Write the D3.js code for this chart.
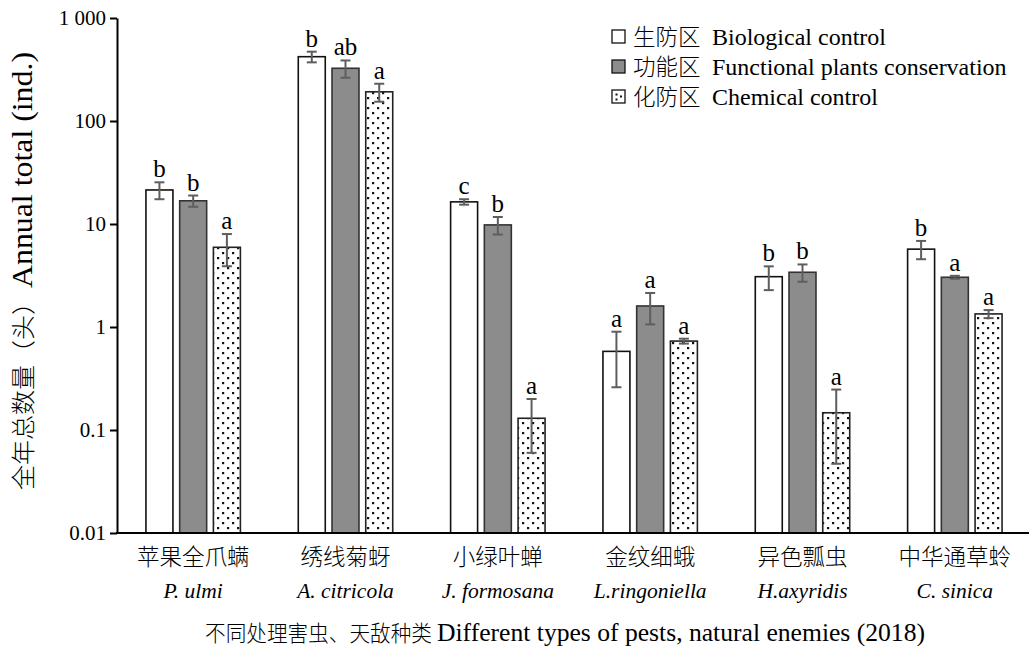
<!DOCTYPE html>
<html>
<head>
<meta charset="utf-8">
<script src="https://cdn.jsdelivr.net/npm/d3@7"></script>
<style>
  html, body { margin: 0; padding: 0; background: #fff; }
  svg { display: block; }
</style>
</head>
<body>
<svg id="chart" width="1029" height="646"></svg>
<script>
// Species (Chinese name + Latin name)
const categoriesCn = ["苹果全爪螨", "绣线菊蚜", "小绿叶蝉", "金纹细蛾", "异色瓢虫", "中华通草蛉"];
const categoriesLatin = ["P. ulmi", "A. citricola", "J. formosana", "L.ringoniella", "H.axyridis", "C. sinica"];

// Treatments
const seriesCn = ["生防区", "功能区", "化防区"];
const seriesEn = ["Biological control", "Functional plants conservation", "Chemical control"];

// Annual totals (mean) per species, one array per treatment
const biological = [21.4, 421, 16.4, 0.58, 3.08, 5.7];
const functional = [16.8, 325, 9.8, 1.6, 3.4, 3.04];
const chemical   = [5.94, 192, 0.13, 0.73, 0.147, 1.34];

// Standard errors
const biologicalSE = [4.0, 50, 1.0, 0.32, 0.8, 1.15];
const functionalSE = [2.1, 62, 1.9, 0.54, 0.65, 0.1];
const chemicalSE   = [2.05, 38, 0.07, 0.04, 0.1, 0.12];

// Significance letters
const biologicalSig = ["b", "b", "c", "a", "b", "b"];
const functionalSig = ["b", "ab", "b", "a", "b", "a"];
const chemicalSig   = ["a", "a", "a", "a", "a", "a"];

// Axis ticks
const yTicks = [0.01, 0.1, 1, 10, 100, 1000];
const yTickLabels = ["0.01", "0.1", "1", "10", "100", "1 000"];

const values = [biological, functional, chemical];
const errors = [biologicalSE, functionalSE, chemicalSE];
const letters = [biologicalSig, functionalSig, chemicalSig];

const SERIF = "'Liberation Serif', 'DejaVu Serif', serif";
const CJK = "'Noto Sans CJK SC', sans-serif";

const svg = d3.select("#chart");
const plotLeft = 117, plotRight = 1031, plotTop = 18, plotBottom = 533;

const x = d3.scaleBand().domain(d3.range(categoriesCn.length))
  .range([plotLeft, plotRight]).paddingInner(0.38).paddingOuter(0.19);
const xs = d3.scaleBand().domain(d3.range(3))
  .range([0, x.bandwidth()]).paddingInner(0.2).paddingOuter(0);
const y = d3.scaleLog().domain([0.01, 1000]).range([plotBottom, plotTop]);

// Dot fill for the chemical-control bars
const defs = svg.append("defs");
const pat = defs.append("pattern").attr("id", "dots")
  .attr("patternUnits", "userSpaceOnUse").attr("width", 10).attr("height", 10);
pat.append("rect").attr("width", 10).attr("height", 10).attr("fill", "#fff");
pat.append("rect").attr("x", 2).attr("y", 2).attr("width", 2.2).attr("height", 2.2).attr("fill", "#111");
pat.append("rect").attr("x", 7).attr("y", 7).attr("width", 2.2).attr("height", 2.2).attr("fill", "#111");

const fills = ["#ffffff", "#8c8c8c", "url(#dots)"];
const strokes = ["#111", "#333", "#222"];

// Bars, error bars and letters
for (let s = 0; s < 3; s++) {
  const g = svg.append("g");
  categoriesCn.forEach((c, i) => {
    const v = values[s][i], e = errors[s][i];
    const bx = x(i) + xs(s), bw = xs.bandwidth();
    const cx = bx + bw / 2;
    g.append("rect")
      .attr("x", bx).attr("y", y(v))
      .attr("width", bw).attr("height", plotBottom - y(v))
      .attr("fill", fills[s]).attr("stroke", strokes[s]).attr("stroke-width", 1.6);
    const yHi = y(v + e), yLo = y(Math.max(v - e, 0.0105));
    const eb = g.append("g").attr("stroke", "#5e5e5e").attr("stroke-width", 2);
    eb.append("line").attr("x1", cx).attr("x2", cx).attr("y1", yHi).attr("y2", yLo);
    eb.append("line").attr("x1", cx - 5).attr("x2", cx + 5).attr("y1", yHi).attr("y2", yHi);
    eb.append("line").attr("x1", cx - 5).attr("x2", cx + 5).attr("y1", yLo).attr("y2", yLo);
    g.append("text").attr("font-family", SERIF)
      .attr("x", cx).attr("y", yHi - 5)
      .attr("text-anchor", "middle").attr("font-size", 25).attr("fill", "#000")
      .text(letters[s][i]);
  });
}

// Y axis
const yAxis = d3.axisLeft(y).tickValues(yTicks)
  .tickFormat((d, i) => yTickLabels[i]).tickSize(7).tickSizeOuter(0).tickPadding(4);
const ya = svg.append("g").attr("transform", `translate(${plotLeft},0)`).call(yAxis);
ya.attr("font-family", SERIF).attr("font-size", 21);
ya.select(".domain").attr("stroke", "#000").attr("stroke-width", 2);
ya.selectAll(".tick line").attr("stroke", "#000").attr("stroke-width", 2);
ya.selectAll(".tick text").attr("fill", "#000");

// X axis line
svg.append("line").attr("x1", plotLeft - 1).attr("x2", 1029).attr("y1", plotBottom).attr("y2", plotBottom)
  .attr("stroke", "#000").attr("stroke-width", 2);

// Category labels
categoriesCn.forEach((c, i) => {
  const cx = x(i) + x.bandwidth() / 2;
  svg.append("text").attr("x", cx).attr("y", 565)
    .attr("text-anchor", "middle").attr("font-size", 22.5)
    .attr("font-family", CJK).attr("font-weight", 300)
    .attr("fill", "#000").text(c);
  svg.append("text").attr("font-family", SERIF).attr("x", cx).attr("y", 598)
    .attr("text-anchor", "middle").attr("font-size", 21.5).attr("font-style", "italic")
    .attr("fill", "#000").text(categoriesLatin[i]);
});

// X axis title (Chinese + English parts)
svg.append("text").attr("x", 205).attr("y", 641)
  .attr("font-size", 22).attr("font-family", CJK).attr("font-weight", 300).attr("fill", "#000")
  .attr("textLength", 227).attr("lengthAdjust", "spacingAndGlyphs")
  .text("不同处理害虫、天敌种类");
svg.append("text").attr("x", 437).attr("y", 641)
  .attr("font-size", 25).attr("font-family", SERIF).attr("fill", "#000")
  .attr("textLength", 488).attr("lengthAdjust", "spacingAndGlyphs")
  .text("Different types of pests, natural enemies (2018)");

// Y axis title (Chinese + English parts), rotated
svg.append("text").attr("transform", "translate(32,490) rotate(-90)")
  .attr("font-size", 24).attr("font-family", CJK).attr("font-weight", 300).attr("fill", "#000")
  .attr("textLength", 200).attr("lengthAdjust", "spacingAndGlyphs")
  .text("全年总数量（头）");
svg.append("text").attr("transform", "translate(32,288) rotate(-90)")
  .attr("font-size", 30).attr("font-family", SERIF).attr("fill", "#000")
  .attr("textLength", 236).attr("lengthAdjust", "spacingAndGlyphs")
  .text("Annual total (ind.)");

// Legend
const legend = svg.append("g");
seriesCn.forEach((s, i) => {
  const ly = 37 + i * 30;
  legend.append("rect").attr("x", 612).attr("y", ly - 7).attr("width", 13).attr("height", 13)
    .attr("fill", i === 2 ? "#fff" : fills[i]).attr("stroke", "#111").attr("stroke-width", 1.3);
  if (i === 2) {
    [[615.5, ly - 3.5], [620, ly - 1.5], [615.5, ly + 1.5]].forEach(p => {
      legend.append("rect").attr("x", p[0]).attr("y", p[1]).attr("width", 2).attr("height", 2).attr("fill", "#111");
    });
  }
  legend.append("text").attr("x", 633).attr("y", ly + 8)
    .attr("font-size", 22.5).attr("font-family", CJK).attr("font-weight", 300).attr("fill", "#000")
    .text(s);
  legend.append("text").attr("x", 712).attr("y", ly + 8)
    .attr("font-size", 24).attr("font-family", SERIF).attr("fill", "#000")
    .text(seriesEn[i]);
});
</script>
</body>
</html>
